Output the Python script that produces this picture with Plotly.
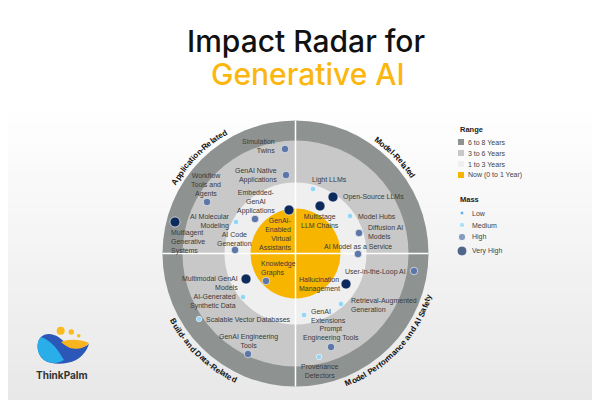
import math
import plotly.graph_objects as go

# ---------------- data ----------------
CX, CY = 287.5, 245.5  # radar centre in page pixels

range_labels = ["6 to 8 Years", "3 to 6 Years", "1 to 3 Years", "Now (0 to 1 Year)"]
range_outer = [133, 113, 71, 45]
range_colors = ["#8e9392", "#c8c8c8", "#efefef", "#f7b500"]

quadrant_names = ["Application-Related", "Model-Related",
                  "Build- and Data-Related", "Model Performance and AI Safety"]
quadrant_angle = [135, 44, 226.5, 317]
quadrant_dir = ["cw", "cw", "ccw", "ccw"]

mass_levels = ["Low", "Medium", "High", "Very High"]
mass_sizes = [4, 5.5, 7.5, 10]
mass_colors = ["#2090d8", "#92d5f5", "#5b76a7", "#0d2a5c"]

tech_names = ["Simulation Twins", "GenAI Native Applications", "Workflow Tools and Agents",
              "Embedded-GenAI Applications", "GenAI-Enabled Virtual Assistants",
              "AI Molecular Modeling", "Multiagent Generative Systems", "AI Code Generation",
              "Light LLMs", "Open-Source LLMs", "Multistage LLM Chains", "Model Hubs",
              "Diffusion AI Models", "AI Model as a Service", "Knowledge Graphs",
              "Multimodal GenAI Models", "AI-Generated Synthetic Data",
              "Scalable Vector Databases", "GenAI Engineering Tools", "User-in-the-Loop AI",
              "Hallucination Management", "Retrieval-Augmented Generation",
              "GenAI Extensions", "Prompt Engineering Tools", "Provenance Detectors"]
tech_x = [-10.5, -9.5, -88.5, -40.5, -6.5, -59.5, -120.5, -60.5,
          17.5, 37.5, 24.5, 54.5, 63.5, 62.5, -29.5,
          -49.5, -52.5, -96.5, -47.5, 118.5,
          50.5, 45.5, 8.5, 35.5, 23.5]
tech_y = [104.5, 78.5, 51.5, 34.5, 43.5, 31.5, 31.5, 3.5,
          64.5, 56.5, 47.5, 37.5, 20.5, -0.5, -27.5,
          -25.5, -43.5, -65.5, -100.5, -17.5,
          -30.5, -50.5, -61.5, -93.5, -103.5]
tech_mass = ["High", "High", "High", "High", "Very High", "Medium", "Very High", "High",
             "Medium", "Very High", "Very High", "Medium", "High", "High", "High",
             "Very High", "Medium", "Medium", "High", "High",
             "Very High", "Medium", "Medium", "High", "Medium"]
label_text = ["Simulation<br>Twins", "GenAI Native<br>Applications", "Workflow<br>Tools and<br>Agents",
              "Embedded-<br>GenAI<br>Applications", "GenAI-<br>Enabled<br>Virtual<br>Assistants",
              "AI Molecular<br>Modeling", "Multiagent<br>Generative<br>Systems", "AI Code<br>Generation",
              "Light LLMs", "Open-Source LLMs", "Multistage<br>LLM Chains", "Model Hubs",
              "Diffusion AI<br>Models", "AI Model as a Service", "Knowledge<br>Graphs",
              "Multimodal GenAI<br>Models", "AI-Generated<br>Synthetic Data",
              "Scalable Vector Databases", "GenAI Engineering<br>Tools", "User-in-the-Loop AI",
              "Hallucination<br>Management", "Retrieval-Augmented<br>Generation",
              "GenAI<br>Extensions", "Prompt<br>Engineering Tools", "Provenance<br>Detectors"]
label_x = [-18.5, -16.5, -89.5, -39.5, -1.5, -63.5, -126.5, -61.5,
           14.5, 45.5, 24.5, 60.5, 70.5, 62.5, -36.5,
           -55.5, -57.5, -91.5, -47.5, 112.5,
           1.5, 53.5, 13.5, 35.5, 23.5]
label_y = [107.5, 78, 68.5, 51.5, 20, 32.5, 11.5, 15,
           73.5, 56.5, 32.5, 37.5, 21.5, 7.5, -14.5,
           -29.5, -47.5, -65.5, -87.5, -18.5,
           -31, -51.5, -62, -79.5, -117.5]
label_anchor = ["right", "right", "center", "center", "right", "right", "left", "center",
                "left", "left", "center", "left", "left", "center", "left",
                "right", "right", "left", "center", "right",
                "left", "left", "left", "center", "center"]


def P(px, py):
    return (px - CX, CY - py)


fig = go.Figure()
shapes = []
annotations = []

# background vertical gradient
for i in range(31):
    y0 = 95 + i * 10
    v = int(round(255 - (255 - 231) * i / 30))
    a = P(0, y0)
    b = P(600, y0 + 10)
    shapes.append(dict(type="rect", xref="x", yref="y", x0=a[0], x1=b[0], y0=b[1], y1=a[1],
                       fillcolor=f"rgb({v},{v},{v})", line=dict(width=0), layer="below"))

# range rings
for r, c in zip(range_outer, range_colors):
    shapes.append(dict(type="circle", xref="x", yref="y", x0=-r, x1=r, y0=-r, y1=r,
                       fillcolor=c, line=dict(width=0), layer="below"))
R = range_outer[0]
shapes.append(dict(type="line", xref="x", yref="y", x0=0, x1=0, y0=-R, y1=R,
                   line=dict(color="white", width=1.5), layer="below"))
shapes.append(dict(type="line", xref="x", yref="y", x0=-R, x1=R, y0=0, y1=0,
                   line=dict(color="white", width=1.5), layer="below"))

# technology points
for lvl, sz, col in zip(mass_levels, mass_sizes, mass_colors):
    xs = [x for x, m in zip(tech_x, tech_mass) if m == lvl]
    ys = [y for y, m in zip(tech_y, tech_mass) if m == lvl]
    nm = [n for n, m in zip(tech_names, tech_mass) if m == lvl]
    fig.add_trace(go.Scatter(x=xs, y=ys, mode="markers", text=nm, name=lvl,
                             marker=dict(size=sz, color=col,
                                         line=dict(width=1, color="rgba(255,255,255,0.6)")),
                             hoverinfo="text", showlegend=False))

LABEL_FONT = dict(family="Liberation Sans, Arial, sans-serif", size=7, color="#3a3a3a")
for t, x, y, a in zip(label_text, label_x, label_y, label_anchor):
    annotations.append(dict(x=x, y=y, xref="x", yref="y", text=t, showarrow=False,
                            xanchor=a, yanchor="middle", align=a, font=LABEL_FONT))

# curved quadrant titles
W = {"A": .722, "B": .722, "C": .722, "D": .722, "E": .667, "F": .611, "G": .778, "I": .278,
     "M": .833, "P": .667, "R": .722, "S": .667, "a": .556, "b": .611, "c": .556, "d": .611,
     "e": .556, "f": .333, "i": .278, "l": .278, "m": .889, "n": .611, "o": .611, "p": .611,
     "r": .389, "s": .556, "t": .333, "u": .611, "y": .556, "-": .333, " ": .278, "h": .611,
     "k": .556, "g": .611}
FS = 8
RT = 140
for name, tc, d in zip(quadrant_names, quadrant_angle, quadrant_dir):
    widths = [W.get(ch, .58) * FS for ch in name]
    L = sum(widths)
    s = 0
    for ch, w in zip(name, widths):
        sc = s + w / 2
        s += w
        off = math.degrees((L / 2 - sc) / RT)
        th = tc + off if d == "cw" else tc - off
        rot = 90 - th if d == "cw" else 270 - th
        if ch == " ":
            continue
        annotations.append(dict(x=RT * math.cos(math.radians(th)), y=RT * math.sin(math.radians(th)),
                                xref="x", yref="y", text=f"<b>{ch}</b>", showarrow=False,
                                textangle=rot, xanchor="center", yanchor="middle",
                                font=dict(family="Liberation Sans, Arial, sans-serif", size=FS,
                                          color="#111")))

# legend
LEG_FONT = dict(family="Liberation Sans, Arial, sans-serif", size=7, color="#444")
TIT_FONT = dict(family="Liberation Sans, Arial, sans-serif", size=7.5, color="#222")
rx, ry = P(450, 121)
annotations.append(dict(x=rx, y=ry, xref="x", yref="y", text="<b>Range</b>", showarrow=False,
                        xanchor="left", yanchor="middle", font=TIT_FONT))
range_leg_y = [134, 145, 156, 167]
sq = [P(453, yy) for yy in range_leg_y]
fig.add_trace(go.Scatter(x=[p[0] for p in sq], y=[p[1] for p in sq], mode="markers",
                         marker=dict(symbol="square", size=6, color=range_colors),
                         hoverinfo="skip", showlegend=False))
for lab, p in zip(range_labels, sq):
    annotations.append(dict(x=p[0] + 5, y=p[1], xref="x", yref="y", text=lab, showarrow=False,
                            xanchor="left", yanchor="middle", font=LEG_FONT))
mx, my = P(450, 191)
annotations.append(dict(x=mx, y=my, xref="x", yref="y", text="<b>Mass</b>", showarrow=False,
                        xanchor="left", yanchor="middle", font=TIT_FONT))
mass_leg_y = [205, 217, 229, 243]
md = [P(454, yy) for yy in mass_leg_y]
fig.add_trace(go.Scatter(x=[p[0] for p in md], y=[p[1] for p in md], mode="markers",
                         marker=dict(size=mass_sizes, color=mass_colors),
                         hoverinfo="skip", showlegend=False))
for lab, p in zip(mass_levels, md):
    annotations.append(dict(x=p[0] + 8, y=p[1], xref="x", yref="y", text=lab, showarrow=False,
                            xanchor="left", yanchor="middle", font=LEG_FONT))

# title
t1 = P(298, 33)
t2 = P(300, 66)
annotations.append(dict(x=t1[0], y=t1[1], xref="x", yref="y", text="Impact Radar for",
                        showarrow=False, xanchor="center", yanchor="middle",
                        font=dict(family="Inter, sans-serif", size=30, weight=500, color="#111")))
annotations.append(dict(x=t2[0], y=t2[1], xref="x", yref="y", text="Generative AI",
                        showarrow=False, xanchor="center", yanchor="middle",
                        font=dict(family="Inter, sans-serif", size=30, weight=500, color="#fbb710")))


# logo
def path(cmds):
    out = []
    for c in cmds:
        if isinstance(c, str):
            out.append(c)
        else:
            q = P(*c)
            out.append(f"{q[0]:.2f},{q[1]:.2f}")
    return " ".join(out)


blob = path(["M", (33, 329), "C", (28, 333), (28, 346), (36, 352),
             "C", (43, 357), (58, 357), (68, 352),
             "C", (75, 348), (79, 342), (81, 336),
             "C", (74, 341), (66, 341), (60, 337),
             "C", (55, 333), (52, 329), (46, 327),
             "C", (41, 325), (36, 326), (33, 329), "Z"])
shapes.append(dict(type="path", xref="x", yref="y", path=blob, fillcolor="#2a57b8",
                   line=dict(width=0)))
light = path(["M", (33, 329), "C", (28, 333), (28, 346), (36, 352),
              "C", (42, 356), (50, 356), (56, 352),
              "C", (51, 344), (45, 333), (33, 329), "Z"])
shapes.append(dict(type="path", xref="x", yref="y", path=light, fillcolor="#2aaee9",
                   line=dict(width=0)))
yel = path(["M", (53, 334), "C", (60, 331), (72, 331), (81, 335),
            "C", (77, 340), (69, 342), (62, 340),
            "C", (58, 338), (55, 336), (53, 334), "Z"])
shapes.append(dict(type="path", xref="x", yref="y", path=yel, fillcolor="#f9b520",
                   line=dict(width=0)))
for (px, py, r) in [(52.7, 322.7, 4), (63.3, 324, 2.7), (70.7, 327.7, 1.8)]:
    a = P(px - r, py + r)
    b = P(px + r, py - r)
    shapes.append(dict(type="circle", xref="x", yref="y", x0=a[0], x1=b[0], y0=a[1], y1=b[1],
                       fillcolor="#fbbb1e", line=dict(width=0)))
lg = P(54, 367)
annotations.append(dict(x=lg[0], y=lg[1], xref="x", yref="y", text="<b>ThinkPalm</b>",
                        showarrow=False, xanchor="center", yanchor="middle",
                        font=dict(family="Inter, sans-serif", size=10, color="#333")))

fig.update_layout(
    width=600, height=400, margin=dict(l=0, r=0, t=0, b=0),
    paper_bgcolor="white", plot_bgcolor="white",
    xaxis=dict(range=[-CX, 600 - CX], visible=False, fixedrange=True),
    yaxis=dict(range=[CY - 400, CY], visible=False, fixedrange=True),
    shapes=shapes, annotations=annotations, showlegend=False,
)
fig.write_html("out.html")
